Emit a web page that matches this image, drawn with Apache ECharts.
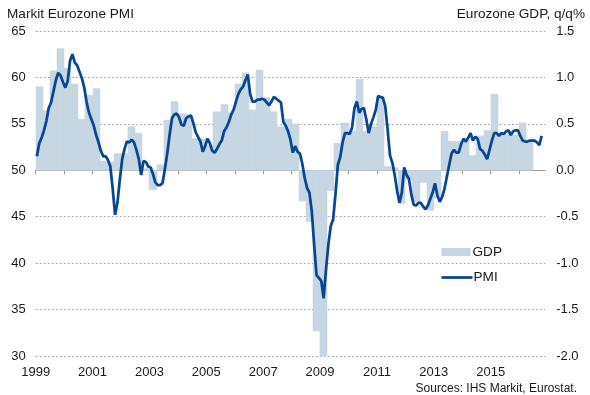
<!DOCTYPE html>
<html>
<head>
<meta charset="utf-8">
<script src="https://cdn.jsdelivr.net/npm/echarts@6/dist/echarts.min.js"></script>
<style>
html,body{margin:0;padding:0;background:#fff;}
#chart{width:590px;height:395px;}
</style>
</head>
<body>
<div id="chart"></div>
<script>
// ---- Data ----
const startYear = 1999;
// Markit Eurozone composite PMI, monthly from Jan 1999
const pmiValues = [
  51.5, 52.9, 53.5, 54.3, 55.3, 56.7, 57.3, 58.5, 59.7, 60.5, 60.2, 59.5,
  58.9, 59.6, 61.8, 62.5, 61.6, 61.3, 60.6, 59.9, 58.9, 57.3, 56.2, 55.5,
  54.8, 53.8, 53.0, 52.1, 51.5, 51.5, 51.1, 50.4, 48.0, 45.2, 46.5, 49.0,
  51.2, 52.3, 53.1, 53.0, 53.3, 53.0, 52.2, 51.2, 49.5, 51.0, 50.9, 50.4,
  50.3, 49.6, 48.7, 48.4, 48.4, 48.6, 50.1, 51.8, 53.8, 55.6, 56.0, 56.1,
  55.7, 54.9, 54.8, 55.6, 55.8, 55.9, 55.1, 54.1, 53.6, 53.1, 52.0, 52.6,
  53.4, 52.9, 52.1, 51.9, 52.3, 52.8, 53.2, 54.2, 54.6, 55.2, 56.0, 56.5,
  57.4, 58.2, 58.7, 59.0, 59.7, 60.3, 58.2, 57.4, 57.4, 57.6, 57.6, 57.7,
  57.6, 57.3, 57.0, 57.4, 57.9, 57.7, 57.5, 57.3, 55.2, 54.8, 54.2, 53.3,
  51.9, 52.6, 52.0, 51.8, 50.7, 49.2, 48.1, 47.6, 45.6, 42.0, 38.7, 38.4,
  38.1, 36.2, 39.3, 42.0, 44.0, 44.7, 47.4, 50.6, 51.4, 53.0, 54.0, 54.0,
  53.9, 54.6, 56.7, 57.4, 56.2, 56.6, 56.7, 55.5, 54.0, 55.0, 55.7, 56.5,
  58.0, 57.9, 57.8, 56.9, 54.4, 51.6, 50.8, 49.5, 47.8, 46.5, 47.6, 50.3,
  49.5, 49.1, 47.4, 46.3, 46.2, 46.5, 46.5, 46.1, 45.8, 46.2, 46.9, 47.6,
  48.6, 47.3, 46.6, 47.1, 48.0, 49.3, 50.6, 51.8, 52.2, 51.9, 51.9, 52.8,
  53.4, 53.1, 53.5, 54.0, 53.2, 53.6, 53.4, 52.3, 52.1, 51.7, 51.2, 52.2,
  53.2, 54.0, 54.0, 53.7, 54.0, 53.9, 54.2, 54.3, 53.8, 54.2, 54.3, 54.3,
  53.7, 53.2, 53.1, 53.1, 53.2, 53.2, 53.2, 53.0, 52.7, 53.7
];
// Eurozone GDP q/q %, quarterly from 1999 Q1
const gdpValues = [
  0.90, 0.64, 1.07, 1.31,
  1.10, 0.93, 0.55, 0.81,
  0.88, 0.10, 0.09, 0.18,
  0.18, 0.47, 0.40, 0.02,
  -0.21, 0.06, 0.54, 0.74,
  0.61, 0.60, 0.34, 0.34,
  0.27, 0.63, 0.71, 0.62,
  0.93, 1.05, 0.65, 1.08,
  0.78, 0.63, 0.47, 0.55,
  0.50, -0.33, -0.55, -1.73,
  -2.90, -0.22, 0.29, 0.51,
  0.42, 0.98, 0.42, 0.47,
  0.80, 0.04, 0.03, -0.36,
  -0.10, -0.34, -0.13, -0.43,
  -0.30, 0.42, 0.31, 0.31,
  0.33, 0.16, 0.37, 0.43,
  0.82, 0.40, 0.38, 0.38,
  0.51, 0.31
];
const pmiTicks = [30, 35, 40, 45, 50, 55, 60, 65];
const gdpTicks = [-2.0, -1.5, -1.0, -0.5, 0.0, 0.5, 1.0, 1.5];
const titleLeft = 'Markit Eurozone PMI';
const titleRight = 'Eurozone GDP, q/q%';
const sourceText = 'Sources: IHS Markit, Eurostat.';

// ---- Build series data (x in months since Jan 1999) ----
const pmiData = pmiValues.map((v, i) => [i + 0.5, v]);
const gdpData = gdpValues.map((v, i) => [i * 3, v]);

const FONT = '"Liberation Sans", Arial, sans-serif';
const TXT = '#1a1a1a';
const BAR = '#c6d6e3';
const LINE = '#0a4592';

const chart = echarts.init(document.getElementById('chart'), null, {renderer: 'canvas'});
chart.setOption({
  animation: false,
  backgroundColor: '#ffffff',
  textStyle: {fontFamily: FONT},
  grid: {left: 35.7, right: 44.8, top: 31, bottom: 39, containLabel: false},
  title: [
    {text: titleLeft, left: 7, top: 7, padding: 0,
     textStyle: {fontFamily: FONT, fontSize: 13.6, fontWeight: 'normal', color: TXT}},
    {text: titleRight, right: 5, top: 7, padding: 0,
     textStyle: {fontFamily: FONT, fontSize: 13.6, fontWeight: 'normal', color: TXT}},
    {text: sourceText, right: 13, top: 383, padding: 0,
     textStyle: {fontFamily: FONT, fontSize: 12, fontWeight: 'normal', color: TXT}}
  ],
  legend: [
    {data: [{name: 'GDP', icon: 'rect'}], left: 441.5, top: 245, orient: 'vertical',
     itemWidth: 29, itemHeight: 8, itemGap: 0, padding: 0, selectedMode: false,
     textStyle: {fontFamily: FONT, fontSize: 13.6, color: TXT, padding: [0, 0, 0, -3]}},
    {data: [{name: 'PMI', icon: 'rect'}], left: 441.5, top: 270.5, orient: 'vertical',
     itemWidth: 31, itemHeight: 2.75, itemGap: 0, padding: 0, selectedMode: false,
     itemStyle: {color: LINE},
     textStyle: {fontFamily: FONT, fontSize: 13.6, color: TXT, padding: [0, 0, 0, -4]}}
  ],
  xAxis: {
    type: 'value', min: 0, max: 215, interval: 12,
    axisLine: {show: true, lineStyle: {color: '#9a9a9a', width: 1}},
    axisTick: {show: true, length: 4, lineStyle: {color: '#9a9a9a'}},
    splitLine: {show: false},
    axisLabel: {
      margin: 10, fontFamily: FONT, fontSize: 13, color: TXT,
      showMaxLabel: false,
      formatter: function (v) { return (v % 24 === 0) ? String(startYear + v / 12) : ''; }
    }
  },
  yAxis: [
    {type: 'value', position: 'left', min: pmiTicks[0], max: pmiTicks[pmiTicks.length - 1], interval: 5,
     axisLine: {show: false}, axisTick: {show: false},
     splitLine: {show: true, lineStyle: {color: '#a8a8a8', type: [2, 2], width: 1}},
     axisLabel: {margin: 10, fontFamily: FONT, fontSize: 13, color: TXT}},
    {type: 'value', position: 'right', min: gdpTicks[0], max: gdpTicks[gdpTicks.length - 1], interval: 0.5,
     axisLine: {show: false}, axisTick: {show: false}, splitLine: {show: false},
     axisLabel: {margin: 11, fontFamily: FONT, fontSize: 13, color: TXT,
                 formatter: function (v) { return v.toFixed(1); }}}
  ],
  series: [
    {
      name: 'GDP', type: 'custom', xAxisIndex: 0, yAxisIndex: 1,
      itemStyle: {color: BAR},
      encode: {x: 0, y: 1},
      data: gdpData,
      z: 1,
      renderItem: function (params, api) {
        const x0 = api.value(0);
        const v = api.value(1);
        const pA = api.coord([x0, 0]);
        const pB = api.coord([x0 + 3, v]);
        // snap to whole pixels so neighbouring quarters touch without seams
        const xl = Math.round(pA[0]);
        const xr = Math.round(pB[0]);
        const rect = {
          x: xl, y: Math.min(pA[1], pB[1]),
          width: xr - xl, height: Math.abs(pB[1] - pA[1])
        };
        const cs = params.coordSys;
        const clipped = echarts.graphic.clipRectByRect(rect, {x: cs.x, y: cs.y, width: cs.width, height: cs.height});
        if (!clipped) return null;
        return {type: 'rect', shape: clipped, style: {fill: BAR, stroke: BAR, lineWidth: 0.6}};
      }
    },
    {
      name: 'PMI', type: 'line', xAxisIndex: 0, yAxisIndex: 0,
      data: pmiData, showSymbol: false, symbol: 'none', smooth: false,
      lineStyle: {color: LINE, width: 2.75}, itemStyle: {color: LINE},
      z: 3
    }
  ]
});
</script>
</body>
</html>
